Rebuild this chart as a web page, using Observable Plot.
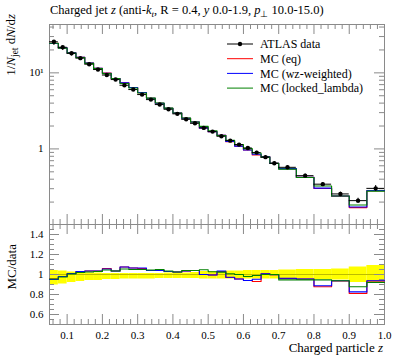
<!DOCTYPE html>
<html><head><meta charset="utf-8">
<script src="https://cdn.jsdelivr.net/npm/d3@7"></script>
<script src="https://cdn.jsdelivr.net/npm/@observablehq/plot@0.6"></script>
<style>
body{margin:0;background:#fff;}
#wrap{position:relative;width:397px;height:358px;overflow:hidden;}
#main,#ratio{position:absolute;left:0;}
#main{top:0;} #ratio{top:220px;}
svg{overflow:visible;}
</style></head><body>
<div id="wrap"><div id="main"></div><div id="ratio"></div></div>
<script>
// ---- data ----
const binEdges = [0.05,0.075,0.1,0.125,0.15,0.175,0.2,0.225,0.25,0.275,0.3,0.325,0.35,0.375,0.4,0.425,0.45,0.475,0.5,0.525,0.55,0.575,0.6,0.625,0.65,0.675,0.7,0.75,0.8,0.85,0.9,0.95,1.0];
const dataValues = [25.6,21.7,18.1,15.6,13.0,11.05,9.36,8.16,6.87,6.03,5.18,4.45,3.83,3.32,2.89,2.45,2.17,1.89,1.69,1.466,1.285,1.14,1.03,0.894,0.780,0.647,0.573,0.445,0.344,0.256,0.209,0.303];
const bandLow  = [0.895,0.905,0.92,0.93,0.94,0.94,0.95,0.95,0.955,0.955,0.955,0.955,0.96,0.96,0.96,0.96,0.96,0.955,0.955,0.955,0.955,0.955,0.955,0.955,0.955,0.955,0.955,0.955,0.95,0.945,0.92,0.91];
const bandHigh = [1.04,1.035,1.025,1.02,1.015,1.015,1.01,1.01,1.01,1.01,1.01,1.01,1.01,1.015,1.015,1.015,1.02,1.03,1.03,1.03,1.035,1.035,1.04,1.04,1.04,1.04,1.045,1.05,1.05,1.055,1.075,1.09];
const ratioEq     = [0.955,0.98,1.01,1.03,1.035,1.035,1.06,1.035,1.075,1.065,1.06,1.04,1.04,1.03,1.025,1.035,1.04,1.0,0.995,1.03,0.97,0.955,0.94,0.93,1.007,0.997,0.96,0.955,0.877,0.935,0.81,0.935];
const ratioWz     = [0.95,0.98,1.01,1.03,1.035,1.035,1.055,1.035,1.075,1.065,1.065,1.04,1.04,1.03,1.025,1.035,1.04,1.0,0.995,1.034,0.973,0.955,0.94,0.952,1.007,0.997,0.962,0.955,0.887,0.938,0.826,0.938];
const ratioLocked = [0.955,0.975,1.005,1.02,1.025,1.03,1.045,1.035,1.055,1.05,1.05,1.045,1.05,1.035,1.025,1.04,1.04,1.048,1.027,1.024,1.007,1.0,0.98,0.99,1.0,1.0,0.946,0.946,0.946,0.938,0.877,0.92];
const seriesNames = ["ATLAS data","MC (eq)","MC (wz-weighted)","MC (locked_lambda)"];
const seriesColors = ["#000000","#ff0000","#0000ff","#008000"];
const xMajorTicks = [0.1,0.2,0.3,0.4,0.5,0.6,0.7,0.8,0.9,1.0];
const xTickLabels = ["0.1","0.2","0.3","0.4","0.5","0.6","0.7","0.8","0.9","1.0"];
const yMajorTicks = [1,10];
const yTickLabels = ["1","10¹"];
const yMinorTicks = [0.2,0.3,0.4,0.5,0.6,0.7,0.8,0.9,2,3,4,5,6,7,8,9,20,30,40];
const rMajorTicks = [0.6,0.8,1.0,1.2,1.4];
const rTickLabels = ["0.6","0.8","1","1.2","1.4"];

// ---- derived tables ----
const xMinorTicks = d3.range(6, 101, 2).filter(k => k % 10 !== 0).map(k => k / 100);
const rMinorTicks = d3.range(55, 150, 5).filter(k => k % 20 !== 0).map(k => k / 100);
const bins = dataValues.map((v, i) => ({
  x1: binEdges[i], x2: binEdges[i+1], xc: (binEdges[i] + binEdges[i+1]) / 2,
  data: v, errLo: v * bandLow[i], errHi: v * bandHigh[i],
  bandLo: bandLow[i], bandHi: bandHigh[i],
  eq: ratioEq[i], wz: ratioWz[i], locked: ratioLocked[i]
}));
const steps = (key, absolute) => bins.flatMap(b => {
  const y = absolute ? b.data * b[key] : b[key];
  return [{x: b.x1, y}, {x: b.x2, y}];
});
const keys = ["eq","wz","locked"];

const W = 397, ML = 49, MR = 13;
const FW = W - ML - MR;
const grey = "#8a8a8a";
function frameTicks(xMaj, xMin, yMaj, yMin, fh) {
  return [
    Plot.ruleX(xMaj, {x: d => d, insetTop: fh - 10, stroke: grey}),
    Plot.ruleX(xMaj, {x: d => d, insetBottom: fh - 10, stroke: grey}),
    Plot.ruleX(xMin, {x: d => d, insetTop: fh - 5, stroke: grey}),
    Plot.ruleX(xMin, {x: d => d, insetBottom: fh - 5, stroke: grey}),
    Plot.ruleY(yMaj, {y: d => d, insetRight: FW - 10, stroke: grey}),
    Plot.ruleY(yMaj, {y: d => d, insetLeft: FW - 10, stroke: grey}),
    Plot.ruleY(yMin, {y: d => d, insetRight: FW - 5, stroke: grey}),
    Plot.ruleY(yMin, {y: d => d, insetLeft: FW - 5, stroke: grey}),
    Plot.frame({stroke: grey})
  ];
}
const style = {fontFamily: "Liberation Serif", fontSize: "11px", color: "black", background: "transparent", overflow: "visible"};

const main = Plot.plot({
  width: W, height: 225, marginTop: 24, marginBottom: 1, marginLeft: ML, marginRight: MR,
  style,
  x: {domain: [0.05, 1.0], axis: null},
  y: {type: "log", domain: [0.1015, 43.2]},
  marks: [
    ...frameTicks(xMajorTicks, xMinorTicks, yMajorTicks, yMinorTicks, 200),
    Plot.axisY({ticks: yMajorTicks, tickSize: 0, tickPadding: 6, tickFormat: d => yTickLabels[yMajorTicks.indexOf(d)], label: null, fontSize: 11}),
    ...keys.map((k, j) => Plot.line(steps(k, true), {x: "x", y: "y", stroke: seriesColors[j+1], strokeWidth: 1.1})),
    Plot.ruleY(bins, {y: "data", x1: "x1", x2: "x2", stroke: "black", strokeWidth: 1}),
    Plot.ruleX(bins, {x: "xc", y1: "errLo", y2: "errHi", stroke: "black", strokeWidth: 1}),
    Plot.dot(bins, {x: "xc", y: "data", r: 2.2, fill: "black", stroke: "none"})
  ]
});
document.getElementById("main").append(main);

const ratio = Plot.plot({
  width: W, height: 138, marginTop: 4, marginBottom: 34, marginLeft: ML, marginRight: MR,
  style,
  x: {domain: [0.05, 1.0]},
  y: {domain: [0.5, 1.5]},
  marks: [
    Plot.rect(bins, {x1: "x1", x2: "x2", y1: "bandLo", y2: "bandHi", fill: "#ffff00"}),
    Plot.ruleY([1], {stroke: "#bcbc00", strokeWidth: 1}),
    ...frameTicks(xMajorTicks, xMinorTicks, rMajorTicks, rMinorTicks, 100),
    Plot.axisX({ticks: xMajorTicks, tickSize: 0, tickPadding: 7, tickFormat: d => xTickLabels[xMajorTicks.indexOf(d)], label: null, fontSize: 11}),
    Plot.axisY({ticks: rMajorTicks, tickSize: 0, tickPadding: 6, tickFormat: d => rTickLabels[rMajorTicks.indexOf(d)], label: null, fontSize: 11}),
    ...keys.map((k, j) => Plot.line(steps(k, false), {x: "x", y: "y", stroke: seriesColors[j+1], strokeWidth: 1.1}))
  ]
});
document.getElementById("ratio").append(ratio);

// ---- text overlay: title, axis titles, legend ----
const ov = d3.select("#wrap").append("svg")
  .attr("width", W).attr("height", 358)
  .style("position", "absolute").style("left", 0).style("top", 0)
  .style("font-family", "Liberation Serif").style("pointer-events", "none");

function rich(sel, parts) {
  parts.forEach(p => {
    const ts = sel.append("tspan").text(p.t);
    if (p.i) ts.attr("font-style", "italic");
    if (p.sub) ts.attr("dy", p.sub);
    if (p.small) ts.attr("font-size", "0.72em");
  });
}
const title = ov.append("text").attr("x", 50).attr("y", 14).attr("font-size", 12.5);
rich(title, [
  {t: "Charged jet "}, {t: "z", i: 1}, {t: " (anti-"}, {t: "k", i: 1}, {t: "t", i: 1, sub: 2.5, small: 1},
  {t: ", R = 0.4, ", sub: -2.5}, {t: "y", i: 1}, {t: " 0.0-1.9, "}, {t: "p", i: 1}, {t: "⊥", sub: 2.5, small: 1},
  {t: " 10.0-15.0)", sub: -2.5}
]);

const yl = ov.append("text").attr("transform", "translate(15,14) rotate(-90)").attr("text-anchor", "end").attr("font-size", 13);
rich(yl, [{t: "1/"}, {t: "N", i: 1}, {t: "jet", sub: 2.5, small: 1}, {t: " d", sub: -2.5}, {t: "N", i: 1}, {t: "/d"}, {t: "z", i: 1}]);

ov.append("text").attr("transform", "translate(16,244) rotate(-90)").attr("text-anchor", "end").attr("font-size", 13).text("MC/data");

const xl = ov.append("text").attr("x", 383).attr("y", 352).attr("text-anchor", "end").attr("font-size", 13);
rich(xl, [{t: "Charged particle "}, {t: "z", i: 1}]);

const legendY = [44, 58.7, 73.4, 88.1];
seriesNames.forEach((name, i) => {
  ov.append("line").attr("x1", 227).attr("x2", 253).attr("y1", legendY[i]).attr("y2", legendY[i])
    .attr("stroke", seriesColors[i]).attr("stroke-width", 1);
  if (i === 0) ov.append("circle").attr("cx", 240).attr("cy", legendY[i]).attr("r", 2.2).attr("fill", "black");
  ov.append("text").attr("x", 260).attr("y", legendY[i]).attr("dy", "0.35em").attr("font-size", 12).text(name);
});
</script>
</body></html>
